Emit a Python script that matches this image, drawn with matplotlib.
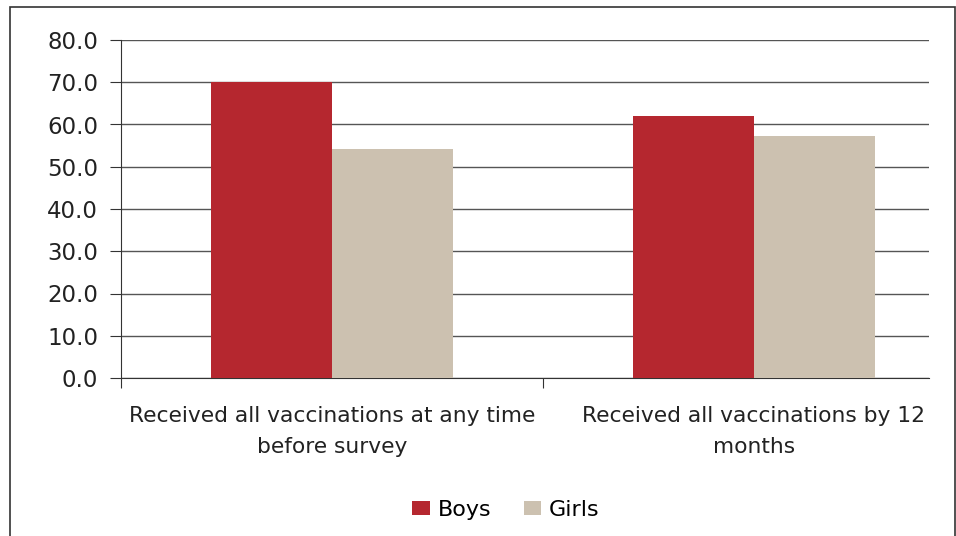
import matplotlib
matplotlib.use("Agg")
import matplotlib.pyplot as plt
from matplotlib.patches import Rectangle
import numpy as np

categories = ["Received all vaccinations at any time\nbefore survey",
              "Received all vaccinations by 12\nmonths"]
boys = [70.0, 62.0]
girls = [54.2, 57.3]
yticks = [0, 10, 20, 30, 40, 50, 60, 70, 80]

plt.rcParams['font.family'] = ['DejaVu Sans']

fig = plt.figure(figsize=(9.56, 5.36), dpi=100)
W, H = 956, 536
ax = fig.add_axes([121 / W, 1 - 378 / H, (929 - 121) / W, (378 - 40) / H])

x = np.arange(len(categories))
bw = 0.287
ax.bar(x - bw / 2, boys, bw, color="#B5272F", label="Boys", zorder=3)
ax.bar(x + bw / 2, girls, bw, color="#CCC1B0", label="Girls", zorder=3)

ax.set_ylim(0, 80)
ax.set_xlim(-0.5, 1.5 - 36 / 422)
ax.set_yticks(yticks)
ax.set_yticklabels([f"{v:.1f}" for v in yticks], fontsize=16.5, color="#222222")
ax.yaxis.grid(True, color="#555555", linewidth=1.0, zorder=0)

ax.set_xticks([-0.5, 0.5])
ax.set_xticklabels([])
ax.tick_params(axis="x", length=7, direction="out", color="#333333")
ax.tick_params(axis="y", length=8, direction="out", color="#333333", pad=8.5)
for i, c in enumerate(categories):
    ax.text(i, -6.6, c, ha="center", va="top", fontsize=15.7, color="#222222",
            linespacing=1.68, transform=ax.transData)

for s in ["top", "right"]:
    ax.spines[s].set_visible(False)
ax.spines["left"].set_color("#333333")
ax.spines["bottom"].set_color("#333333")

fig.legend(loc="center", bbox_to_anchor=(506 / W, 1 - 510 / H), ncol=2, frameon=False,
           fontsize=16, handlelength=0.8, handleheight=0.6, columnspacing=1.45,
           handletextpad=0.35)

fig.patches.append(Rectangle((10 / W, -0.01), (W - 11) / W, 1 - 7 / H + 0.01,
                             transform=fig.transFigure, fill=False,
                             edgecolor="#333333", linewidth=1.2))

fig.savefig("out.png", dpi=100)
